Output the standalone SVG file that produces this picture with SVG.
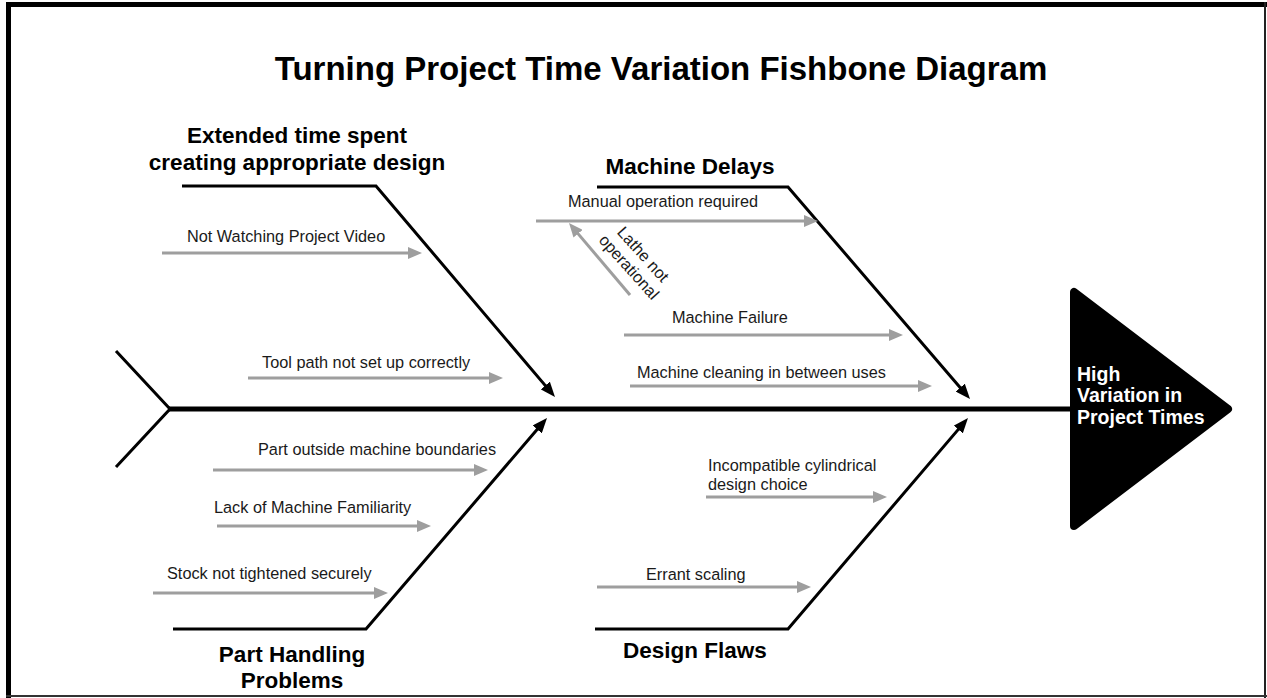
<svg xmlns="http://www.w3.org/2000/svg" width="1267" height="698" viewBox="0 0 1267 698">
<style>
.title{font-family:"Liberation Sans",Arial,sans-serif;font-weight:bold;font-size:33px;fill:#000}
.cat{font-family:"Liberation Sans",Arial,sans-serif;font-weight:bold;font-size:22.5px;fill:#000;text-anchor:middle}
.lbl{font-family:"Liberation Sans",Arial,sans-serif;font-size:16.3px;fill:#1a1a1a}
.head{font-family:"Liberation Sans",Arial,sans-serif;font-weight:bold;font-size:19.5px;fill:#fff}
.bone{stroke:#000;stroke-width:3;fill:none}
.sub{stroke:#9e9e9e;stroke-width:3;fill:none;marker-end:url(#ga)}
.spine{stroke:#000;stroke-width:5;fill:none}
</style>
<defs>
<marker id="ga" markerUnits="userSpaceOnUse" markerWidth="14" markerHeight="12" viewBox="0 0 14 12" refX="8" refY="6" orient="auto">
<path d="M0,0 L14,6 L0,12 z" fill="#9e9e9e"/>
</marker>
<marker id="ba" markerUnits="userSpaceOnUse" markerWidth="15" markerHeight="12" viewBox="0 0 15 12" refX="9" refY="6" orient="auto">
<path d="M0,0 L15,6 L0,12 z" fill="#000"/>
</marker>
</defs>
<rect width="1267" height="698" fill="#fff"/>
<g id="frame" fill="#000">
<rect x="6" y="2" width="1261" height="5"/>
<rect x="6" y="2" width="5" height="696"/>
<rect x="1264" y="2" width="2" height="696" fill="#222"/>
<rect x="6" y="695" width="1261" height="2" fill="#333"/>
</g>
<text class="title" x="661" y="80" text-anchor="middle">Turning Project Time Variation Fishbone Diagram</text>
<g id="connectors">
<line class="spine" x1="169" y1="409" x2="1074" y2="409"/>
<polyline class="bone" points="116,351 170,409 116,467"/>
<polyline class="bone" points="182,186 376,186 551.1,392.4" marker-end="url(#ba)"/>
<polyline class="bone" points="597,187 788,187 966.1,394.4" marker-end="url(#ba)"/>
<polyline class="bone" points="173,629 366,629 543.1,422.6" marker-end="url(#ba)"/>
<polyline class="bone" points="595,629 788,629 964.1,422.6" marker-end="url(#ba)"/>
<line class="sub" x1="162" y1="253" x2="416" y2="253"/>
<line class="sub" x1="248" y1="378" x2="497" y2="378"/>
<line class="sub" x1="536" y1="221" x2="812" y2="221"/>
<line class="sub" x1="630" y1="295" x2="572.9" y2="227.6"/>
<line class="sub" x1="624" y1="335" x2="897" y2="335"/>
<line class="sub" x1="630" y1="386" x2="926" y2="386"/>
<line class="sub" x1="213" y1="470" x2="482" y2="470"/>
<line class="sub" x1="217" y1="526" x2="425" y2="526"/>
<line class="sub" x1="153" y1="593" x2="382" y2="593"/>
<line class="sub" x1="706" y1="497" x2="881" y2="497"/>
<line class="sub" x1="597" y1="587" x2="805" y2="587"/>
</g>
<g id="head">
<polygon points="1074,292 1074,526 1228,409" fill="#000" stroke="#000" stroke-width="8" stroke-linejoin="round"/>
<text class="head" x="1077" y="381">High</text>
<text class="head" x="1077" y="402">Variation in</text>
<text class="head" x="1077" y="424">Project Times</text>
</g>
<g id="cat-design-time">
<text class="cat" x="297" y="143">Extended time spent</text>
<text class="cat" x="297" y="170">creating appropriate design</text>
</g>
<g id="cat-machine">
<text class="cat" x="690" y="174">Machine Delays</text>
</g>
<g id="cat-handling">
<text class="cat" x="292" y="662">Part Handling</text>
<text class="cat" x="292" y="688">Problems</text>
</g>
<g id="cat-flaws">
<text class="cat" x="695" y="658">Design Flaws</text>
</g>
<g id="cause-video"><text class="lbl" x="187" y="242">Not Watching Project Video</text></g>
<g id="cause-toolpath"><text class="lbl" x="262" y="368">Tool path not set up correctly</text></g>
<g id="cause-manual"><text class="lbl" x="568" y="207">Manual operation required</text></g>
<g id="cause-lathe" transform="translate(639,258) rotate(48)">
<text class="lbl" x="0" y="0" text-anchor="middle">Lathe not</text>
<text class="lbl" x="0" y="19" text-anchor="middle">operational</text>
</g>
<g id="cause-failure"><text class="lbl" x="672" y="323">Machine Failure</text></g>
<g id="cause-cleaning"><text class="lbl" x="637" y="378">Machine cleaning in between uses</text></g>
<g id="cause-boundaries"><text class="lbl" x="258" y="455">Part outside machine boundaries</text></g>
<g id="cause-familiarity"><text class="lbl" x="214" y="513">Lack of Machine Familiarity</text></g>
<g id="cause-stock"><text class="lbl" x="167" y="579">Stock not tightened securely</text></g>
<g id="cause-cylindrical">
<text class="lbl" x="708" y="471">Incompatible cylindrical</text>
<text class="lbl" x="708" y="490">design choice</text>
</g>
<g id="cause-scaling"><text class="lbl" x="646" y="580">Errant scaling</text></g>
</svg>
